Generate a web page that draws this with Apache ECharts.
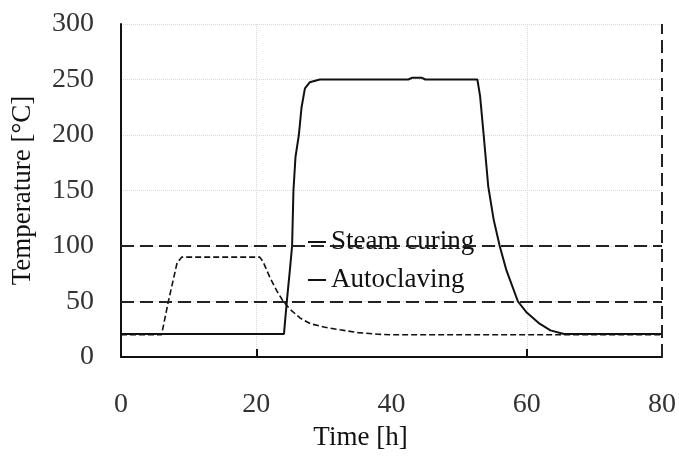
<!DOCTYPE html>
<html>
<head>
<meta charset="utf-8">
<script src="https://cdn.jsdelivr.net/npm/echarts@6/dist/echarts.min.js"></script>
<style>html,body{margin:0;padding:0;background:#fff}#c{width:679px;height:458px}</style>
</head>
<body>
<div id="c"></div>
<script>
const xTicks = [0, 20, 40, 60, 80];
const yTicks = [0, 50, 100, 150, 200, 250, 300];
const seriesNames = ['Steam curing', 'Autoclaving'];
const steamCuring = [[0,20],[6,20],[7,50],[8.3,85],[9,90],[20.5,90],[21,86],[22,72],[23,60],[24,50],[25,43],[26.5,35],[28,30],[30,27],[32.4,24.5],[35,22],[38,20.5],[40,20],[80,20]];
const autoclaving = [[0,20.8],[24.1,20.8],[24.3,35],[24.6,55],[25.0,80],[25.3,100],[25.5,150],[25.8,180],[26.3,200],[26.7,225],[27.2,242],[27.9,247.5],[29.4,250],[42.5,250],[43,251.5],[44.5,251.5],[45,250],[52.7,250],[53.1,235],[53.6,202],[54.3,154],[55.1,124],[56,100],[57,78],[58.7,50],[60,40],[61.9,30],[63.5,24],[65.5,20.8],[80,20.8]];
const refLinesY = [50, 100];
const refLineX = 80;

const font = 'Liberation Serif';
const chart = echarts.init(document.getElementById('c'));
chart.setOption({
  animation: false,
  grid: {left: 121, right: 17, top: 24, bottom: 101},
  legend: {
    left: 303, top: 222, orient: 'vertical', itemWidth: 18, itemHeight: 2, itemGap: 8,
    icon: 'rect',
    itemStyle: {color: '#111', borderWidth: 0},
    textStyle: {fontFamily: font, fontSize: 27, color: '#111', lineHeight: 30},
    data: seriesNames.map(n => ({name: n}))
  },
  xAxis: {
    type: 'value', min: xTicks[0], max: xTicks[xTicks.length-1], interval: 20,
    name: 'Time [h]', nameLocation: 'middle', nameGap: 67,
    nameTextStyle: {fontFamily: font, fontSize: 27, color: '#111', lineHeight: 27, padding: [0, 62, 0, 0]},
    axisLine: {lineStyle: {color: '#111', width: 2}},
    axisTick: {show: true, inside: true, length: 8, lineStyle: {color: '#111', width: 2}, customValues: [20, 60]},
    axisLabel: {fontFamily: font, fontSize: 28, color: '#333', margin: 34},
    splitLine: {show: true, lineStyle: {color: '#d8d8d8', type: 'dotted', width: 1}}
  },
  yAxis: {
    type: 'value', min: yTicks[0], max: yTicks[yTicks.length-1], interval: 50,
    name: 'Temperature [\u00B0C]', nameLocation: 'middle', nameGap: 85,
    nameTextStyle: {fontFamily: font, fontSize: 27, color: '#111', lineHeight: 27},
    axisLine: {show: true, lineStyle: {color: '#111', width: 2}},
    axisTick: {show: false},
    axisLabel: {fontFamily: font, fontSize: 28, color: '#333', margin: 27},
    splitLine: {show: true, lineStyle: {color: '#d8d8d8', type: 'dotted', width: 1}}
  },
  series: [
    {
      name: seriesNames[0], type: 'line', data: steamCuring, showSymbol: false, symbol: 'none',
      lineStyle: {color: '#111', width: 1.6, type: [6, 3]},
      itemStyle: {color: '#111'},
      markLine: {
        silent: true, symbol: 'none', label: {show: false},
        lineStyle: {color: '#222', width: 2, type: [13, 6]},
        data: refLinesY.map(v => ({yAxis: v})).concat([{xAxis: refLineX}])
      }
    },
    {
      name: seriesNames[1], type: 'line', data: autoclaving, showSymbol: false, symbol: 'none',
      lineStyle: {color: '#111', width: 2, type: 'solid'},
      itemStyle: {color: '#111'}
    }
  ]
});
</script>
</body>
</html>
